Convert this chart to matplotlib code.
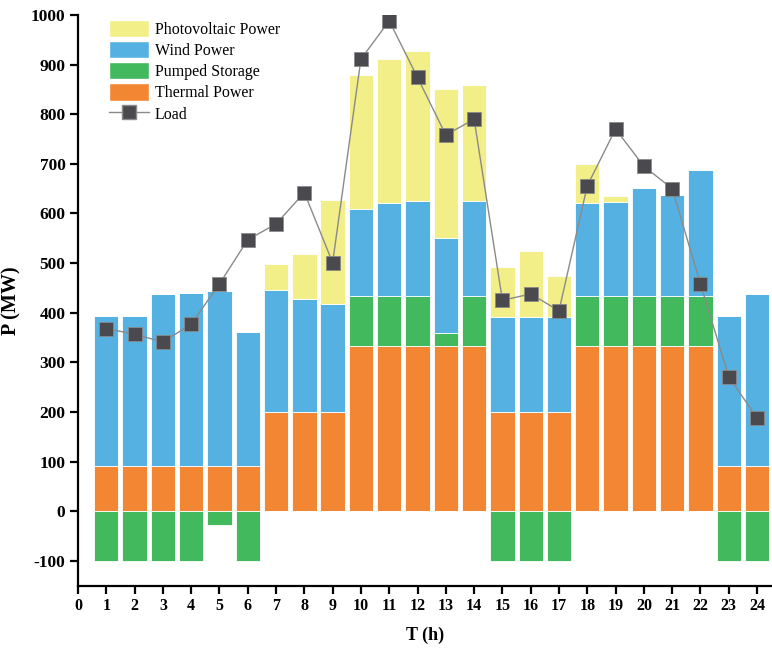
import numpy as np
import matplotlib.pyplot as plt
from matplotlib.patches import Patch
from matplotlib.lines import Line2D

plt.rcParams['font.family'] = ['Liberation Serif', 'DejaVu Serif']
plt.rcParams['axes.unicode_minus'] = False

hours = np.arange(1, 25)

# segment heights (MW)
thermal = [91, 91, 91, 91, 91, 91, 200, 200, 200, 333, 333, 333, 333, 333,
           200, 200, 200, 333, 333, 333, 333, 333, 91, 91]
pumped = [-100, -100, -100, -100, -28, -100, 0, 0, 0, 100, 100, 100, 27, 100,
          -100, -100, -100, 100, 100, 100, 100, 100, -100, -100]
wind = [302, 302, 347, 349, 353, 270, 246, 227, 217, 176, 189, 192, 190, 192,
        191, 191, 191, 189, 191, 219, 204, 254, 303, 347]
pv = [0, 0, 0, 0, 0, 0, 52, 91, 211, 270, 289, 302, 300, 233,
      102, 133, 83, 77, 11, 0, 0, 0, 0, 0]
load = [368, 357, 341, 377, 458, 547, 579, 642, 501, 911, 988, 874, 758, 790,
        425, 438, 404, 656, 770, 695, 650, 458, 271, 188]

c_pv = '#F2EE88'
c_wind = '#56B1E3'
c_pump = '#43B95D'
c_therm = '#F38632'

fig = plt.figure(figsize=(7.72, 6.48), dpi=100)
ax = fig.add_axes([0.101, 0.096, 0.898, 0.881])

thermal = np.array(thermal)
pumped = np.array(pumped)
wind = np.array(wind)
pv = np.array(pv)

w = 0.86
kw = dict(width=w, edgecolor='white', linewidth=0.6)
ax.bar(hours, thermal, color=c_therm, **kw)
pos_pump = np.where(pumped > 0, pumped, 0)
neg_pump = np.where(pumped < 0, pumped, 0)
ax.bar(hours, pos_pump, bottom=thermal, color=c_pump, **kw)
ax.bar(hours, neg_pump, color=c_pump, **kw)
base = thermal + pos_pump
ax.bar(hours, wind, bottom=base, color=c_wind, **kw)
ax.bar(hours, pv, bottom=base + wind, color=c_pv, **kw)

ax.plot(hours, load, color='#8A8A8A', linewidth=1.0, marker='s', markersize=9.5,
        markerfacecolor='#4A4A4E', markeredgecolor='#8A8A8A', markeredgewidth=0.6,
        zorder=5)

ax.set_xlim(0, 24.5)
ax.set_ylim(-150, 1000)
ax.set_xticks(np.arange(0, 25))
ax.set_yticks(np.arange(-100, 1001, 100))
for s in ['top', 'right']:
    ax.spines[s].set_visible(False)
for s in ['left', 'bottom']:
    ax.spines[s].set_linewidth(1.6)
ax.tick_params(axis='both', width=1.6, length=5.5)
ax.tick_params(axis='x', labelsize=11.5)
ax.tick_params(axis='y', labelsize=12.5)
for lab in ax.get_xticklabels() + ax.get_yticklabels():
    lab.set_fontweight('bold')

ax.set_xlabel('T (h)', fontsize=13, fontweight='bold', labelpad=9)
ax.set_ylabel('P (MW)', fontsize=14.5, fontweight='bold', labelpad=7)

handles = [Patch(facecolor=c_pv, edgecolor='white'),
           Patch(facecolor=c_wind, edgecolor='white'),
           Patch(facecolor=c_pump, edgecolor='white'),
           Patch(facecolor=c_therm, edgecolor='white'),
           Line2D([], [], color='#8A8A8A', linewidth=1.0, marker='s', markersize=9.5,
                  markerfacecolor='#4A4A4E', markeredgecolor='#8A8A8A')]
labels = ['Photovoltaic Power', 'Wind Power', 'Pumped Storage', 'Thermal Power', 'Load']
ax.legend(handles, labels, loc='upper left', bbox_to_anchor=(0.035, 1.003),
          frameon=False, fontsize=11.5, handlelength=2.5, handleheight=1.3,
          labelspacing=0.2, handletextpad=0.4, borderaxespad=0.0)

fig.savefig('out.png', dpi=100)
